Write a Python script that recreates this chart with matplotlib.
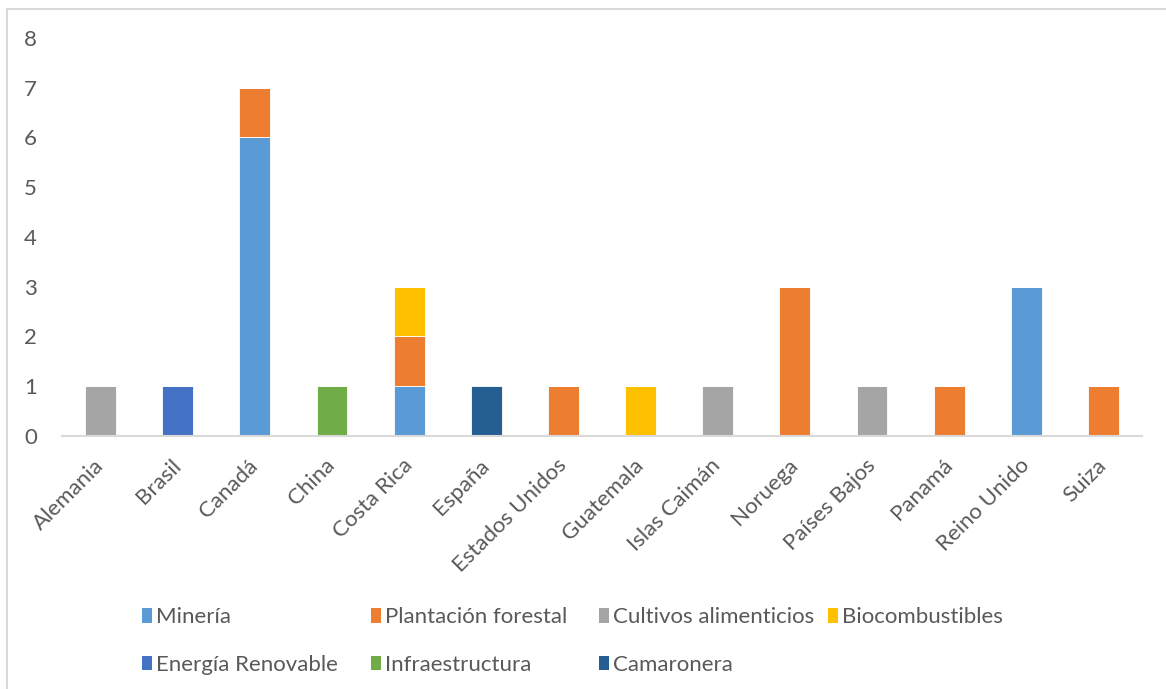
import matplotlib
matplotlib.use("Agg")
import matplotlib.pyplot as plt
import numpy as np
from matplotlib.patches import Patch
from matplotlib.lines import Line2D

categories = ["Alemania", "Brasil", "Canadá", "China", "Costa Rica", "España",
              "Estados Unidos", "Guatemala", "Islas Caimán", "Noruega",
              "Países Bajos", "Panamá", "Reino Unido", "Suiza"]

mineria = [0, 0, 6, 0, 1, 0, 0, 0, 0, 0, 0, 0, 3, 0]
plantacion = [0, 0, 1, 0, 1, 0, 1, 0, 0, 3, 0, 1, 0, 1]
cultivos = [1, 0, 0, 0, 0, 0, 0, 0, 1, 0, 1, 0, 0, 0]
biocomb = [0, 0, 0, 0, 1, 0, 0, 1, 0, 0, 0, 0, 0, 0]
energia = [0, 1, 0, 0, 0, 0, 0, 0, 0, 0, 0, 0, 0, 0]
infra = [0, 0, 0, 1, 0, 0, 0, 0, 0, 0, 0, 0, 0, 0]
camaronera = [0, 0, 0, 0, 0, 1, 0, 0, 0, 0, 0, 0, 0, 0]

series = [
    ("Minería", mineria, "#5B9BD5"),
    ("Plantación forestal", plantacion, "#ED7D31"),
    ("Cultivos alimenticios", cultivos, "#A5A5A5"),
    ("Biocombustibles", biocomb, "#FFC000"),
    ("Energía Renovable", energia, "#4472C4"),
    ("Infraestructura", infra, "#70AD47"),
    ("Camaronera", camaronera, "#255E91"),
]

plt.rcParams['font.family'] = ['Lato', 'DejaVu Sans']
W, H = 1166, 689
FS = 16
fig = plt.figure(figsize=(W / 100, H / 100), dpi=100)
ax = fig.add_axes([62 / W, 1 - 436 / H, (1142 - 62) / W, (436 - 38) / H])

x = np.arange(len(categories))
bottom = np.zeros(len(categories))
for name, vals, col in series:
    v = np.array(vals, dtype=float)
    ax.bar(x, v, width=0.4, bottom=bottom, color=col, edgecolor="white",
           linewidth=0.6, label=name)
    bottom += v

ax.set_xlim(-0.5, len(categories) - 0.5)
ax.set_ylim(0, 8)
ax.set_yticks(range(0, 9))
for s in ["top", "right", "left"]:
    ax.spines[s].set_visible(False)
ax.spines["bottom"].set_color("#D9D9D9")
ax.spines["bottom"].set_linewidth(1.5)
ax.tick_params(axis="both", length=0, labelcolor="#595959", labelsize=FS)
ax.tick_params(axis="y", pad=18)
ax.set_xticks(x)
ax.set_xticklabels(categories, rotation=45, ha="right", rotation_mode="anchor",
                   va="center")
ax.tick_params(axis="x", pad=19)

# legend in 4 fixed-width columns
handles = [Patch(facecolor=c, edgecolor="none", label=n) for n, _, c in series]
cols = [[0, 4], [1, 5], [2, 6], [3]]
col_x = [142, 371, 599, 828]
for cx, idxs in zip(col_x, cols):
    fig.legend(handles=[handles[i] for i in idxs], loc="upper left",
               bbox_to_anchor=(cx / W, 1 - 607 / H), frameon=False,
               fontsize=FS, labelcolor="#595959", handlelength=0.45,
               handleheight=0.65, handletextpad=0.2, labelspacing=1.25,
               borderpad=0, borderaxespad=0)

# outer frame
fig.add_artist(Line2D([7 / W, 1], [1 - 9 / H, 1 - 9 / H], color="#D9D9D9",
                      linewidth=1.5, transform=fig.transFigure))
fig.add_artist(Line2D([7 / W, 7 / W], [0, 1 - 9 / H], color="#D9D9D9",
                      linewidth=1.5, transform=fig.transFigure))

fig.savefig("out.png", dpi=100, facecolor="white")
